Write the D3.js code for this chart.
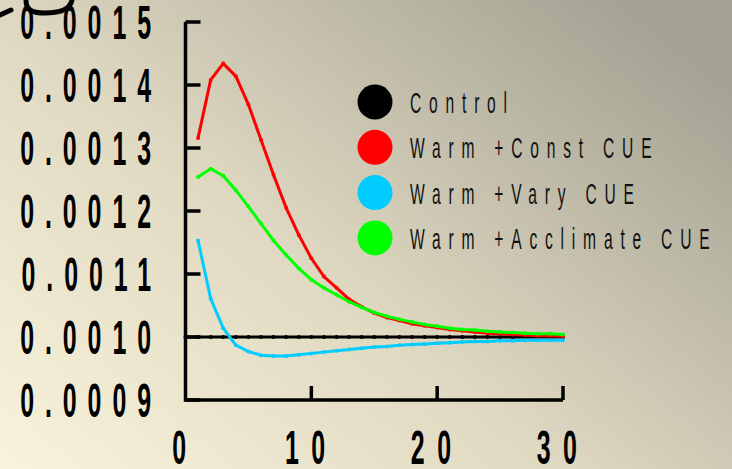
<!DOCTYPE html>
<html>
<head>
<meta charset="utf-8">
<script src="https://cdn.jsdelivr.net/npm/d3@7"></script>
<style>
  body { margin: 0; }
  svg { display: block; }
</style>
</head>
<body>
<div id="chart"></div>
<script>
const width = 732,
  height = 469;

// data
const days = [1, 2, 3, 4, 5, 6, 7, 8, 9, 10, 11, 12, 13, 14, 15, 16, 17, 18, 19, 20,
  21, 22, 23, 24, 25, 26, 27, 28, 29, 30];
const controlDays = [0, 1, 2, 3, 4, 5, 6, 7, 8, 9, 10, 11, 12, 13, 14, 15, 16, 17, 18, 19, 20,
  21, 22, 23, 24, 25, 26, 27, 28, 29, 30];
const control = [0.001, 0.001, 0.001, 0.001, 0.001, 0.001, 0.001, 0.001, 0.001, 0.001, 0.001,
  0.001, 0.001, 0.001, 0.001, 0.001, 0.001, 0.001, 0.001, 0.001, 0.001,
  0.001, 0.001, 0.001, 0.001, 0.001, 0.001, 0.001, 0.001, 0.001, 0.001];
const constCue = [0.001316, 0.001408, 0.001434, 0.001414, 0.001369, 0.001313, 0.001257, 0.001205,
  0.001162, 0.001125, 0.001096, 0.001078, 0.00106, 0.001048, 0.001038, 0.001031, 0.001026,
  0.001021, 0.001018, 0.001015, 0.001012, 0.00101, 0.001008, 0.001006, 0.001005, 0.001004,
  0.001003, 0.001002, 0.001002, 0.001001];
const varyCue = [0.001153, 0.001061, 0.001014, 0.000987, 0.000977, 0.000971, 0.00097, 0.00097,
  0.000972, 0.000974, 0.000976, 0.000978, 0.00098, 0.000982, 0.000984, 0.000985, 0.000987,
  0.000988, 0.000989, 0.00099, 0.000991, 0.000992, 0.000993, 0.000993, 0.000994, 0.000994,
  0.000995, 0.000995, 0.000995, 0.000995];
const acclimCue = [0.001254, 0.001267, 0.001256, 0.001233, 0.001207, 0.00118, 0.001153, 0.00113,
  0.001109, 0.001091, 0.001078, 0.001067, 0.001056, 0.001047, 0.001039, 0.001033, 0.001028,
  0.001024, 0.00102, 0.001017, 0.001014, 0.001012, 0.001011, 0.001009, 0.001008, 0.001007,
  0.001006, 0.001005, 0.001005, 0.001004];

const xTicks = [0, 10, 20, 30];
const yTicks = [0.0009, 0.001, 0.0011, 0.0012, 0.0013, 0.0014, 0.0015];
const legendLabels = ["Control", "Warm +Const CUE", "Warm +Vary CUE", "Warm +Acclimate CUE"];
const colors = ["#000000", "#ff0000", "#00ccff", "#00ff00"];

const x = d3.scaleLinear().domain([0, 30]).range([185.5, 563]);
const y = d3.scaleLinear().domain([0.0009, 0.0015]).range([400, 22]);

const svg = d3
  .select("#chart")
  .append("svg")
  .attr("width", width)
  .attr("height", height);

// background gradient
const grad = svg
  .append("defs")
  .append("linearGradient")
  .attr("id", "bg")
  .attr("x1", 0)
  .attr("y1", 1)
  .attr("x2", 1)
  .attr("y2", 0.2);
grad.append("stop").attr("offset", "0%").attr("stop-color", "#faf3db");
grad.append("stop").attr("offset", "45%").attr("stop-color", "#e1dac3");
grad.append("stop").attr("offset", "100%").attr("stop-color", "#a5a394");

svg.append("rect").attr("width", width).attr("height", height).attr("fill", "url(#bg)");

// stray glyph fragment top-left
svg
  .append("path")
  .attr("d", "M0,15 L11,10 M26,0 C26,9 30,13 45,13 C60,13 70,10 72,0")
  .attr("fill", "none")
  .attr("stroke", "#000")
  .attr("stroke-width", 5)
  .attr("stroke-linecap", "round");

// axes
const axisColor = "#000";
svg
  .append("path")
  .attr("d", `M${x(0)},${y(0.0015)} V${y(0.0009)} H${x(30)}`)
  .attr("fill", "none")
  .attr("stroke", axisColor)
  .attr("stroke-width", 3.5);

svg
  .selectAll(".ytick")
  .data(yTicks)
  .enter()
  .append("line")
  .attr("x1", x(0))
  .attr("x2", x(0) + 15)
  .attr("y1", (d) => y(d))
  .attr("y2", (d) => y(d))
  .attr("stroke", axisColor)
  .attr("stroke-width", 3.5);

svg
  .selectAll(".xtick")
  .data(xTicks.slice(1))
  .enter()
  .append("line")
  .attr("x1", (d) => x(d))
  .attr("x2", (d) => x(d))
  .attr("y1", y(0.0009))
  .attr("y2", y(0.0009) - 14)
  .attr("stroke", axisColor)
  .attr("stroke-width", 3.5);

// tick labels (tall condensed, spaced)
const tickFont = "'Liberation Sans', Arial, sans-serif";
svg
  .selectAll(".ylab")
  .data(yTicks)
  .enter()
  .append("g")
  .attr("transform", (d) => `translate(162,${y(d) + 17}) scale(0.52,1)`)
  .append("text")
  .attr("text-anchor", "end")
  .attr("font-family", tickFont)
  .attr("font-weight", "bold")
  .attr("font-size", 48)
  .attr("letter-spacing", 21)
  .text((d) => d.toFixed(4));

svg
  .selectAll(".xlab")
  .data(xTicks)
  .enter()
  .append("g")
  .attr("transform", (d) => `translate(${x(d)},464) scale(0.52,1)`)
  .append("text")
  .attr("text-anchor", "middle")
  .attr("font-family", tickFont)
  .attr("font-weight", "bold")
  .attr("font-size", 48)
  .attr("letter-spacing", 24)
  .text((d) => d);

// lines
const line = d3
  .line()
  .x((d) => x(d[0]))
  .y((d) => y(d[1]));

const series = [
  d3.zip(controlDays, control),
  d3.zip(days, constCue),
  d3.zip(days, varyCue),
  d3.zip(days, acclimCue),
];

series.forEach(function (pts, i) {
  svg
    .append("path")
    .datum(pts)
    .attr("d", line)
    .attr("fill", "none")
    .attr("stroke", colors[i])
    .attr("stroke-width", 3);
  svg
    .selectAll(".pt" + i)
    .data(pts)
    .enter()
    .append("circle")
    .attr("cx", (d) => x(d[0]))
    .attr("cy", (d) => y(d[1]))
    .attr("r", 2)
    .attr("fill", colors[i]);
});

// legend
const legend = svg
  .selectAll(".legend")
  .data(legendLabels)
  .enter()
  .append("g")
  .attr("transform", (d, i) => `translate(375,${102 + i * 45.3})`);

legend
  .append("circle")
  .attr("r", 17.5)
  .attr("fill", (d, i) => colors[i]);

legend
  .append("g")
  .attr("transform", "translate(35,11) scale(0.52,1)")
  .append("text")
  .attr("font-family", tickFont)
  .attr("font-size", 30)
  .attr("letter-spacing", 15)
  .attr("fill", "#111")
  .text((d) => d);
</script>
</body>
</html>
